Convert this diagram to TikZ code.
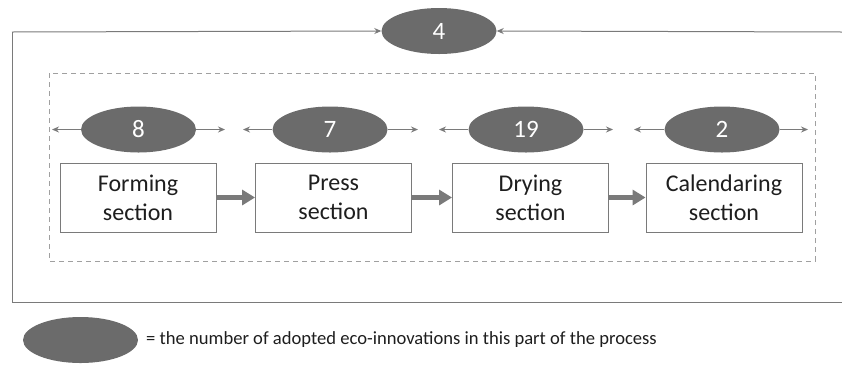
\documentclass[tikz,border=0pt]{standalone}
\usepackage{fontspec}
\setmainfont{Carlito}
\usetikzlibrary{shapes.geometric,arrows.meta}
\definecolor{blobgray}{HTML}{6B6B6B}
\definecolor{linegray}{HTML}{7A7A7A}
\definecolor{dashgray}{HTML}{A0A0A0}
\definecolor{textblack}{HTML}{1E1E1E}
\tikzset{
  x=1pt, y=-1pt,
  blob/.style={ellipse, fill=blobgray, inner sep=0pt, minimum width=115pt, minimum height=46pt,
    text=white, font=\fontsize{25}{25}\selectfont},
  section/.style={draw=linegray, line width=0.9pt, minimum width=156pt, minimum height=69pt,
    inner sep=0pt, align=center, text=textblack, font=\fontsize{24}{29}\selectfont},
  thin/.style={draw=linegray, line width=1pt, -{Stealth[length=7pt,width=6pt]}},
  flow/.style={draw=linegray, line width=4.5pt, -{Triangle[length=13pt,width=15pt]}},
}
\begin{document}
\begin{tikzpicture}
\useasboundingbox (0,0) rectangle (842,365);

% feedback loop around the whole line
\node[blob] (total) at (439,31) {4};
\coordinate (tl) at (12,32);
\coordinate (bl) at (12,302);
\coordinate (br) at (842,302);
\coordinate (tr) at (842,32);
\draw[linegray, line width=1pt] (br) -- (bl) -- (tl);
\draw[thin] (tl) -- (total.west);
\draw[thin] (tr) -- (total.east);

% dashed frame of the paper machine
\draw[dashgray, line width=1pt, dash pattern=on 5pt off 4pt] (49,73) rectangle (815,261);

% machine sections
\node[section] (forming) at (138,197.5) {Forming\\section};
\node[section] (press) at (333.5,197.5) {Press\\section};
\node[section] (drying) at (530.5,197.5) {Drying\\section};
\node[section] (cal) at (724,197.5) {Calendaring\\section};

\draw[flow] (forming.east) -- (press.west);
\draw[flow] (press.east) -- (drying.west);
\draw[flow] (drying.east) -- (cal.west);

% eco-innovation counts per section
\node[blob] (n1) at (138.5,129.5) {8};
\node[blob] (n2) at (330,129.5) {7};
\node[blob] (n3) at (526,129.5) {19};
\node[blob] (n4) at (722,129.5) {2};

\foreach \n/\l/\r in {n1/52/225, n2/243/418, n3/439/613, n4/634/808}{
  \coordinate (\n l) at (\l,129.5);
  \coordinate (\n r) at (\r,129.5);
  \draw[thin] (\n.west) -- (\n l);
  \draw[thin] (\n.east) -- (\n r);
}

% legend
\node[blob] (key) at (80.5,340) {};
\node[anchor=west, inner sep=0pt, text=textblack, font=\fontsize{18.6}{18.6}\selectfont] (keytext) at (146,340)
  {= the number of adopted eco-innovations in this part of the process};
\end{tikzpicture}
\end{document}
